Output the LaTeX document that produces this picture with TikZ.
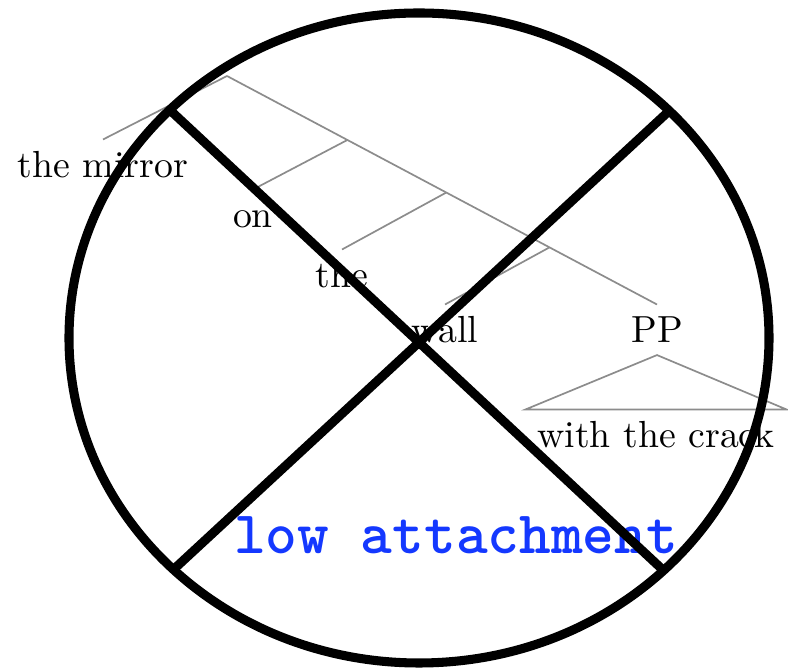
\documentclass[tikz,border=0pt]{standalone}
\usepackage{fontspec}
\usepackage{tikz}
\usetikzlibrary{calc}
\definecolor{treegray}{HTML}{8C8C8C}
\definecolor{attblue}{HTML}{1438FF}

\begin{document}
\begin{tikzpicture}[x=0.265pt,y=-0.265pt,
  word/.style={anchor=base,inner sep=3pt,text height=7pt,text depth=0pt,font=\normalsize},
  branch/.style={treegray,line width=0.45pt},
  cross/.style={black,line width=2.4pt}]
  \useasboundingbox (0,0) rectangle (788,672);
  % the tree
  \coordinate (top) at (227,76);
  \node[word] (mirror) at (103,178) {the mirror};
  \node[word] (on) at (253,228) {on};
  \node[word] (the) at (342,288) {the};
  \node[word] (wall) at (445,343) {wall};
  \node[word] (pp) at (657,343) {PP};
  \node[word] (crack) at (656,448) {with the crack};
  \draw[branch] (top) -- (mirror.north);
  \draw[branch] (top) -- (pp.north);
  \foreach \f/\w in {0.28/on,0.51/the,0.75/wall}{
    \draw[branch] ($(top)!\f!(pp.north)$) -- (\w.north);
  }
  \draw[branch] (pp.south) -- (crack.north west) -- (crack.north east) -- cycle;
  % the label
  \node[text=attblue,font=\ttfamily\bfseries\fontsize{16pt}{18pt}\selectfont] (low) at (456,535) {low attachment};
  % the crossed circle
  \draw[cross] (419,338) ellipse [x radius=350,y radius=325];
  \coordinate (ul) at (172,112);
  \coordinate (ur) at (668,112);
  \coordinate (ll) at (173,570);
  \coordinate (lr) at (663,570);
  \draw[cross] (ul) -- (lr);
  \draw[cross] (ur) -- (ll);
\end{tikzpicture}
\end{document}
